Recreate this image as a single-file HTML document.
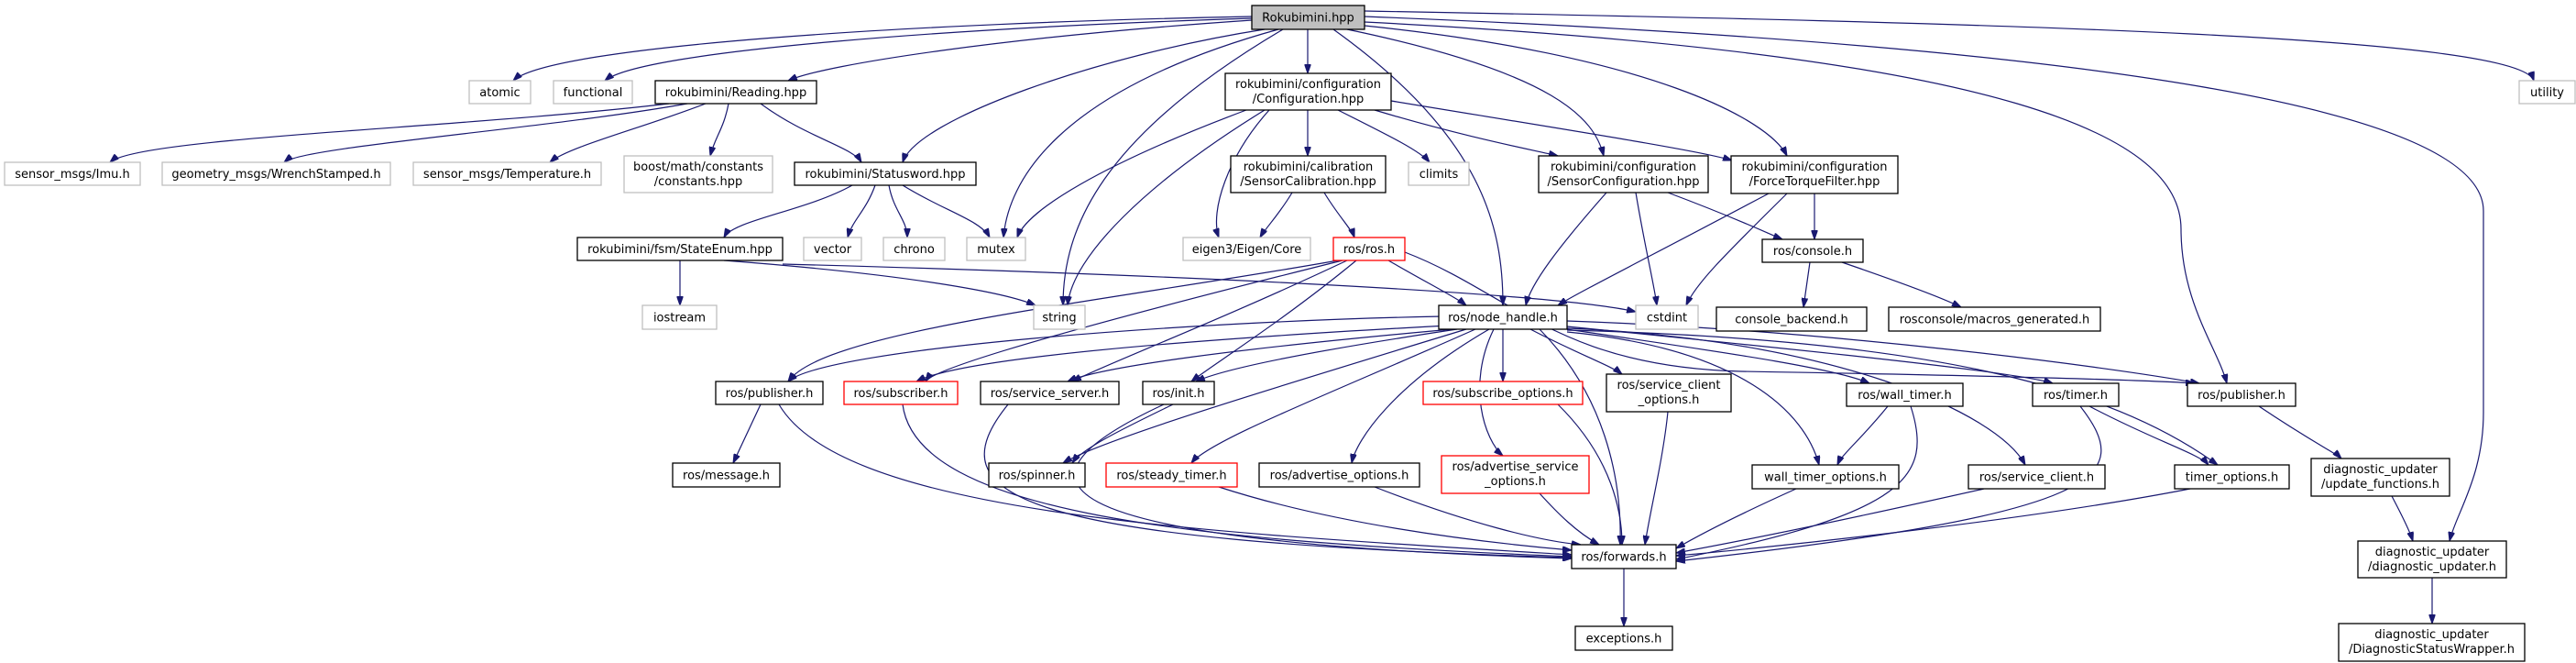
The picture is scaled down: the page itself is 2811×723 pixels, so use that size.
<!DOCTYPE html>
<html><head><meta charset="utf-8"><style>
html,body{margin:0;padding:0;background:#fff;}
svg{display:block;}
text{font-family:"DejaVu Sans","Liberation Sans",sans-serif;font-size:13px;fill:#000;}
</style></head><body>
<svg width="2811" height="723" viewBox="0 0 2811 723" xmlns="http://www.w3.org/2000/svg">
<defs><marker id="ah" viewBox="0 0 10 7" refX="10" refY="3.5" markerWidth="10" markerHeight="7" markerUnits="userSpaceOnUse" orient="auto"><path d="M0,0 L10,3.5 L0,7 z" fill="#191970" stroke="#191970"/></marker></defs>
<g fill="none" stroke="#191970" stroke-width="1.2" marker-end="url(#ah)">
<path d="M1366,18 C1000,25 600,50 560,88"/>
<path d="M1366,20 C1050,30 700,55 660,88"/>
<path d="M1366,22 C1100,40 900,70 860,88"/>
<path d="M1380,32 C1200,60 1000,130 985,177"/>
<path d="M1395,32 C1150,100 1100,200 1095,259"/>
<path d="M1400,32 C1200,150 1160,250 1160,333"/>
<path d="M1427,32 L1427,80"/>
<path d="M1455,32 C1620,150 1640,250 1640,333"/>
<path d="M1470,32 C1700,80 1740,130 1750,170"/>
<path d="M1489,28 C1800,60 1930,130 1950,170"/>
<path d="M1489,24 C2200,60 2380,150 2380,250 C2380,330 2420,380 2430,418"/>
<path d="M1489,12 C2200,25 2750,40 2765,88"/>
<path d="M1489,18 C2300,50 2710,120 2710,230 L2710,450 C2710,520 2680,560 2673,590"/>
<path d="M730,113 C500,140 150,150 120,177"/>
<path d="M750,113 C600,140 330,160 310,177"/>
<path d="M770,113 C700,140 620,160 600,177"/>
<path d="M795,113 C790,140 780,150 775,170"/>
<path d="M830,113 C880,150 930,160 940,177"/>
<path d="M930,202 C880,230 800,240 790,259"/>
<path d="M955,202 C945,230 930,240 925,259"/>
<path d="M970,202 C975,230 990,240 990,259"/>
<path d="M985,202 C1030,230 1070,240 1080,259"/>
<path d="M742,284 L742,333"/>
<path d="M790,284 C1000,300 1100,320 1130,333"/>
<path d="M854,288 C1300,300 1700,320 1785,340"/>
<path d="M1360,120 C1200,180 1120,230 1110,259"/>
<path d="M1380,120 C1250,200 1170,280 1165,333"/>
<path d="M1385,120 C1340,170 1320,230 1330,259"/>
<path d="M1427,120 L1427,170"/>
<path d="M1460,120 C1520,150 1550,165 1560,177"/>
<path d="M1500,120 C1600,150 1680,165 1700,170"/>
<path d="M1518,110 C1700,140 1860,165 1890,175"/>
<path d="M1410,210 C1395,235 1380,250 1375,259"/>
<path d="M1445,210 C1460,235 1475,250 1478,259"/>
<path d="M1753,210 C1700,270 1670,310 1665,333"/>
<path d="M1785,210 C1795,270 1805,310 1808,333"/>
<path d="M1820,210 C1900,240 1930,255 1945,261"/>
<path d="M1930,211 C1800,280 1720,320 1700,333"/>
<path d="M1950,211 C1880,280 1850,310 1840,333"/>
<path d="M1980,211 L1980,261"/>
<path d="M1975,286 L1968,335"/>
<path d="M2010,286 C2080,310 2120,325 2140,335"/>
<path d="M1515,284 C1560,310 1590,325 1600,333"/>
<path d="M1460,284 C1200,330 900,360 860,416"/>
<path d="M1465,284 C1200,350 1020,400 1010,416"/>
<path d="M1470,284 C1330,350 1200,400 1170,416"/>
<path d="M1480,284 C1400,350 1320,400 1300,416"/>
<path d="M1533,275 C1650,320 1700,400 1900,405 C2200,410 2350,415 2395,418"/>
<path d="M1575,345 C1300,350 900,380 860,416"/>
<path d="M1580,355 C1300,370 1050,390 1000,416"/>
<path d="M1585,359 C1350,380 1200,400 1165,416"/>
<path d="M1590,359 C1450,380 1340,400 1305,416"/>
<path d="M1600,359 C1400,420 1200,480 1160,505"/>
<path d="M1610,359 C1450,430 1320,480 1300,505"/>
<path d="M1625,359 C1520,420 1480,480 1475,505"/>
<path d="M1640,359 L1640,416"/>
<path d="M1630,359 C1600,420 1620,480 1640,497"/>
<path d="M1670,359 C1720,385 1760,400 1770,408"/>
<path d="M1680,359 C1750,430 1770,520 1768,594"/>
<path d="M1710,359 C1850,380 2000,400 2040,418"/>
<path d="M1710,362 C1900,380 1970,450 1985,507"/>
<path d="M1710,356 C1950,380 2200,405 2240,418"/>
<path d="M1710,360 C2100,370 2300,420 2420,507"/>
<path d="M1710,358 C2000,370 2180,450 2210,507"/>
<path d="M1710,350 C2000,360 2300,400 2400,418"/>
<path d="M830,441 L800,505"/>
<path d="M850,441 C920,560 1300,580 1715,605"/>
<path d="M985,441 C1000,560 1300,590 1715,607"/>
<path d="M1100,441 C1020,540 1100,590 1715,608"/>
<path d="M1280,441 C1220,470 1180,490 1170,505"/>
<path d="M1270,441 C1100,520 1100,590 1715,609"/>
<path d="M1330,531 C1450,570 1600,590 1715,600"/>
<path d="M1500,531 C1600,570 1680,590 1725,594"/>
<path d="M1680,538 C1700,560 1720,580 1745,594"/>
<path d="M1700,441 C1760,500 1770,560 1770,594"/>
<path d="M1820,449 C1815,500 1800,560 1795,594"/>
<path d="M2060,443 C2030,480 2010,495 2005,507"/>
<path d="M2085,443 C2110,520 2080,560 1829,610"/>
<path d="M1960,533 C1900,560 1860,580 1829,598"/>
<path d="M2165,533 C2000,570 1900,590 1829,603"/>
<path d="M2280,443 C2350,480 2400,495 2410,507"/>
<path d="M2270,443 C2330,520 2300,560 1829,612"/>
<path d="M2390,533 C2200,570 1900,600 1829,606"/>
<path d="M2465,443 C2520,480 2550,495 2555,500"/>
<path d="M2610,541 C2620,560 2630,580 2633,590"/>
<path d="M2654,630 L2654,680"/>
<path d="M1772,620 L1772,683"/>
</g>
<g stroke-width="1.3">
<rect x="1366" y="6" width="123" height="26" fill="#bfbfbf" stroke="#000"/><text x="1427.5" y="23.5" text-anchor="middle">Rokubimini.hpp</text>
<rect x="512" y="88" width="67" height="25" fill="#fff" stroke="#bfbfbf"/><text x="545.5" y="105" text-anchor="middle">atomic</text>
<rect x="604" y="88" width="86" height="25" fill="#fff" stroke="#bfbfbf"/><text x="647" y="105" text-anchor="middle">functional</text>
<rect x="715" y="88" width="176" height="25" fill="#fff" stroke="#000"/><text x="803" y="105" text-anchor="middle">rokubimini/Reading.hpp</text>
<rect x="5" y="177" width="148" height="25" fill="#fff" stroke="#bfbfbf"/><text x="79" y="194" text-anchor="middle">sensor_msgs/Imu.h</text>
<rect x="177" y="177" width="249" height="25" fill="#fff" stroke="#bfbfbf"/><text x="301.5" y="194" text-anchor="middle">geometry_msgs/WrenchStamped.h</text>
<rect x="451" y="177" width="205" height="25" fill="#fff" stroke="#bfbfbf"/><text x="553.5" y="194" text-anchor="middle">sensor_msgs/Temperature.h</text>
<rect x="681" y="170" width="162" height="40" fill="#fff" stroke="#bfbfbf"/><text x="762" y="186" text-anchor="middle">boost/math/constants</text><text x="762" y="202" text-anchor="middle">/constants.hpp</text>
<rect x="867" y="177" width="198" height="25" fill="#fff" stroke="#000"/><text x="966" y="194" text-anchor="middle">rokubimini/Statusword.hpp</text>
<rect x="1337" y="80" width="181" height="40" fill="#fff" stroke="#000"/><text x="1427.5" y="96" text-anchor="middle">rokubimini/configuration</text><text x="1427.5" y="112" text-anchor="middle">/Configuration.hpp</text>
<rect x="1343" y="170" width="169" height="40" fill="#fff" stroke="#000"/><text x="1427.5" y="186" text-anchor="middle">rokubimini/calibration</text><text x="1427.5" y="202" text-anchor="middle">/SensorCalibration.hpp</text>
<rect x="1537" y="177" width="66" height="25" fill="#fff" stroke="#bfbfbf"/><text x="1570" y="194" text-anchor="middle">climits</text>
<rect x="1679" y="170" width="185" height="40" fill="#fff" stroke="#000"/><text x="1771.5" y="186" text-anchor="middle">rokubimini/configuration</text><text x="1771.5" y="202" text-anchor="middle">/SensorConfiguration.hpp</text>
<rect x="1889" y="170" width="182" height="41" fill="#fff" stroke="#000"/><text x="1980" y="186" text-anchor="middle">rokubimini/configuration</text><text x="1980" y="202" text-anchor="middle">/ForceTorqueFilter.hpp</text>
<rect x="2749" y="88" width="61" height="25" fill="#fff" stroke="#bfbfbf"/><text x="2779.5" y="105" text-anchor="middle">utility</text>
<rect x="630" y="259" width="224" height="25" fill="#fff" stroke="#000"/><text x="742" y="276" text-anchor="middle">rokubimini/fsm/StateEnum.hpp</text>
<rect x="877" y="259" width="63" height="25" fill="#fff" stroke="#bfbfbf"/><text x="908.5" y="276" text-anchor="middle">vector</text>
<rect x="964" y="259" width="67" height="25" fill="#fff" stroke="#bfbfbf"/><text x="997.5" y="276" text-anchor="middle">chrono</text>
<rect x="1055" y="259" width="64" height="25" fill="#fff" stroke="#bfbfbf"/><text x="1087" y="276" text-anchor="middle">mutex</text>
<rect x="1291" y="259" width="139" height="25" fill="#fff" stroke="#bfbfbf"/><text x="1360.5" y="276" text-anchor="middle">eigen3/Eigen/Core</text>
<rect x="1455" y="259" width="78" height="25" fill="#fff" stroke="#ff0000"/><text x="1494" y="276" text-anchor="middle">ros/ros.h</text>
<rect x="1923" y="261" width="110" height="25" fill="#fff" stroke="#000"/><text x="1978" y="278" text-anchor="middle">ros/console.h</text>
<rect x="701" y="333" width="81" height="26" fill="#fff" stroke="#bfbfbf"/><text x="741.5" y="350.5" text-anchor="middle">iostream</text>
<rect x="1128" y="333" width="56" height="26" fill="#fff" stroke="#bfbfbf"/><text x="1156" y="350.5" text-anchor="middle">string</text>
<rect x="1570" y="333" width="140" height="26" fill="#fff" stroke="#000"/><text x="1640" y="350.5" text-anchor="middle">ros/node_handle.h</text>
<rect x="1785" y="333" width="68" height="26" fill="#fff" stroke="#bfbfbf"/><text x="1819" y="350.5" text-anchor="middle">cstdint</text>
<rect x="1873" y="335" width="164" height="26" fill="#fff" stroke="#000"/><text x="1955" y="352.5" text-anchor="middle">console_backend.h</text>
<rect x="2061" y="335" width="231" height="26" fill="#fff" stroke="#000"/><text x="2176.5" y="352.5" text-anchor="middle">rosconsole/macros_generated.h</text>
<rect x="781" y="416" width="117" height="25" fill="#fff" stroke="#000"/><text x="839.5" y="433" text-anchor="middle">ros/publisher.h</text>
<rect x="921" y="416" width="124" height="25" fill="#fff" stroke="#ff0000"/><text x="983" y="433" text-anchor="middle">ros/subscriber.h</text>
<rect x="1070" y="416" width="151" height="25" fill="#fff" stroke="#000"/><text x="1145.5" y="433" text-anchor="middle">ros/service_server.h</text>
<rect x="1247" y="416" width="78" height="25" fill="#fff" stroke="#000"/><text x="1286" y="433" text-anchor="middle">ros/init.h</text>
<rect x="1553" y="416" width="174" height="25" fill="#fff" stroke="#ff0000"/><text x="1640" y="433" text-anchor="middle">ros/subscribe_options.h</text>
<rect x="1753" y="408" width="136" height="41" fill="#fff" stroke="#000"/><text x="1821" y="424" text-anchor="middle">ros/service_client</text><text x="1821" y="440" text-anchor="middle">_options.h</text>
<rect x="2015" y="418" width="127" height="25" fill="#fff" stroke="#000"/><text x="2078.5" y="435" text-anchor="middle">ros/wall_timer.h</text>
<rect x="2218" y="418" width="94" height="25" fill="#fff" stroke="#000"/><text x="2265" y="435" text-anchor="middle">ros/timer.h</text>
<rect x="2387" y="418" width="118" height="25" fill="#fff" stroke="#000"/><text x="2446" y="435" text-anchor="middle">ros/publisher.h</text>
<rect x="734" y="505" width="117" height="26" fill="#fff" stroke="#000"/><text x="792.5" y="522.5" text-anchor="middle">ros/message.h</text>
<rect x="1079" y="505" width="105" height="26" fill="#fff" stroke="#000"/><text x="1131.5" y="522.5" text-anchor="middle">ros/spinner.h</text>
<rect x="1207" y="505" width="143" height="26" fill="#fff" stroke="#ff0000"/><text x="1278.5" y="522.5" text-anchor="middle">ros/steady_timer.h</text>
<rect x="1374" y="505" width="175" height="26" fill="#fff" stroke="#000"/><text x="1461.5" y="522.5" text-anchor="middle">ros/advertise_options.h</text>
<rect x="1573" y="497" width="161" height="41" fill="#fff" stroke="#ff0000"/><text x="1653.5" y="513" text-anchor="middle">ros/advertise_service</text><text x="1653.5" y="529" text-anchor="middle">_options.h</text>
<rect x="1912" y="507" width="160" height="26" fill="#fff" stroke="#000"/><text x="1992" y="524.5" text-anchor="middle">wall_timer_options.h</text>
<rect x="2148" y="507" width="149" height="26" fill="#fff" stroke="#000"/><text x="2222.5" y="524.5" text-anchor="middle">ros/service_client.h</text>
<rect x="2373" y="507" width="125" height="26" fill="#fff" stroke="#000"/><text x="2435.5" y="524.5" text-anchor="middle">timer_options.h</text>
<rect x="2522" y="500" width="151" height="41" fill="#fff" stroke="#000"/><text x="2597.5" y="516" text-anchor="middle">diagnostic_updater</text><text x="2597.5" y="532" text-anchor="middle">/update_functions.h</text>
<rect x="2573" y="590" width="162" height="40" fill="#fff" stroke="#000"/><text x="2654" y="606" text-anchor="middle">diagnostic_updater</text><text x="2654" y="622" text-anchor="middle">/diagnostic_updater.h</text>
<rect x="1715" y="594" width="114" height="26" fill="#fff" stroke="#000"/><text x="1772" y="611.5" text-anchor="middle">ros/forwards.h</text>
<rect x="1719" y="683" width="106" height="26" fill="#fff" stroke="#000"/><text x="1772" y="700.5" text-anchor="middle">exceptions.h</text>
<rect x="2552" y="680" width="203" height="41" fill="#fff" stroke="#000"/><text x="2653.5" y="696" text-anchor="middle">diagnostic_updater</text><text x="2653.5" y="712" text-anchor="middle">/DiagnosticStatusWrapper.h</text>
</g>
</svg>
</body></html>
